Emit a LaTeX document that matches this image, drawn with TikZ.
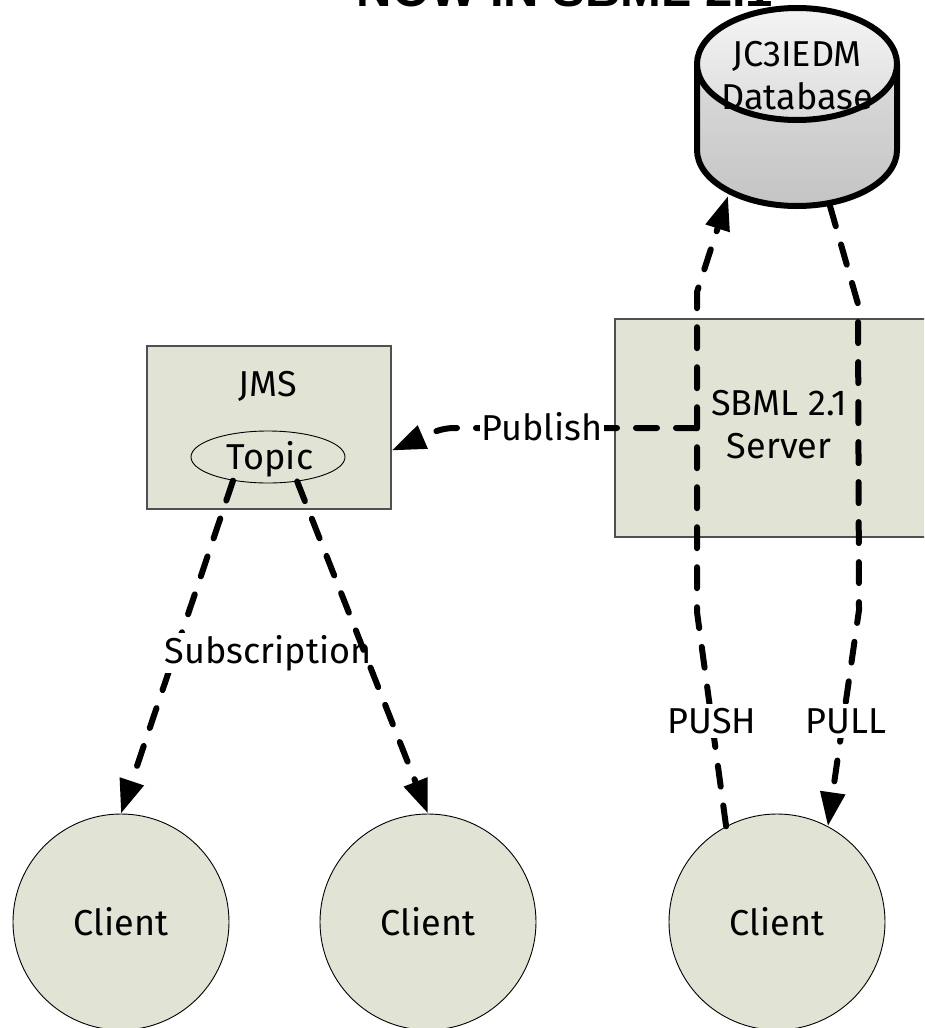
\documentclass[tikz,border=0pt]{standalone}
\usepackage{fontspec}
\setmainfont{Fira Sans}
\newfontfamily\titlefont{Liberation Sans}
\usetikzlibrary{arrows.meta,shapes.geometric}
\definecolor{boxfill}{HTML}{E1E4D4}
\definecolor{boxline}{HTML}{505050}
\definecolor{dbtop}{HTML}{F4F4F4}
\definecolor{dbmid}{HTML}{DCDCDC}
\definecolor{dbbot}{HTML}{C4C4C4}
\tikzset{
  lbl/.style={font=\fontsize{36}{43}\selectfont, inner sep=0pt, align=center},
  tag/.style={lbl, fill=white, inner sep=4pt},
  panel/.style={draw=boxline, line width=1.2pt, fill=boxfill},
  client/.style={circle, draw=black, line width=0.9pt, fill=boxfill, minimum size=216pt, lbl},
  flow/.style={line width=6pt, line cap=round, line join=round, dash pattern=on 21pt off 19pt},
  head/.style={-{Triangle[length=34pt,width=24pt]}},
}
\begin{document}
\begin{tikzpicture}[x=1pt,y=-1pt]
\useasboundingbox (0,0) rectangle (924,1028);
\clip (0,0) rectangle (924,1028);

% slide heading, mostly above the visible area
\node[font=\titlefont\bfseries\fontsize{49}{50}\selectfont, anchor=base, inner sep=0pt] (title) at (565,6) {NOW IN SBML 2.1};

% database cylinder
\fill[top color=dbmid, bottom color=dbbot]
  (697,64) -- (697,150) .. controls (697,180.9) and (741.8,206) .. (797,206)
  .. controls (852.2,206) and (897,180.9) .. (897,150) -- (897,64) -- cycle;
\draw[line width=6pt, line join=round]
  (697,64) -- (697,150) .. controls (697,180.9) and (741.8,206) .. (797,206)
  .. controls (852.2,206) and (897,180.9) .. (897,150) -- (897,64);
\draw[line width=6pt, top color=dbtop, bottom color=dbmid] (797,64) ellipse [x radius=100, y radius=56];
\node[lbl] (db) at (797,76) {JC3IEDM\\Database};
\coordinate (dbpush) at (728,196);
\coordinate (dbpull) at (830,206);

% JMS with its topic
\node[panel, minimum width=244pt, minimum height=163pt] (jms) at (269,427.5) {};
\node[lbl] (jmslabel) at (268,386) {JMS};
\node[ellipse, draw=black, line width=0.9pt, fill=boxfill, minimum width=154pt, minimum height=52pt, inner sep=0pt] (topic) at (268,457) {};
\node[lbl] (topiclabel) at (270,459) {Topic};

% server
\node[panel, minimum width=390pt, minimum height=218pt] (sbml) at (810,428) {};
\node[lbl] (sbmllabel) at (779,425) {SBML 2.1\\Server};

% clients
\node[client] (c1) at (121,922) {Client};
\node[client] (c2) at (428,922) {Client};
\node[client] (c3) at (777,922) {Client};

% push / pull between client and database
\draw[flow, head] (c3.118) -- (697,612) -- (697,292) -- (dbpush);
\draw[flow, head] (dbpull) -- (858,304) -- (859,610) -- (c3.62);
\node[tag] (pushlbl) at (712,721) {PUSH};
\node[tag] (pulllbl) at (846,721) {PULL};

% server publishes to the topic
\coordinate (pubstart) at (697,428);
\draw[flow, head] (pubstart) -- (455,428) .. controls (440,428) and (432,433) .. ([yshift=-23pt]jms.east);
\node[tag, inner sep=2pt] (publbl) at (542,427) {Publish};

% subscriptions
\draw[flow, head] (topic.214) -- (c1.north);
\node[tag, inner sep=2pt] (sublbl) at (268,653) {Subscription};
\draw[flow, head] (topic.320) -- (c2.north);
\end{tikzpicture}
\end{document}
